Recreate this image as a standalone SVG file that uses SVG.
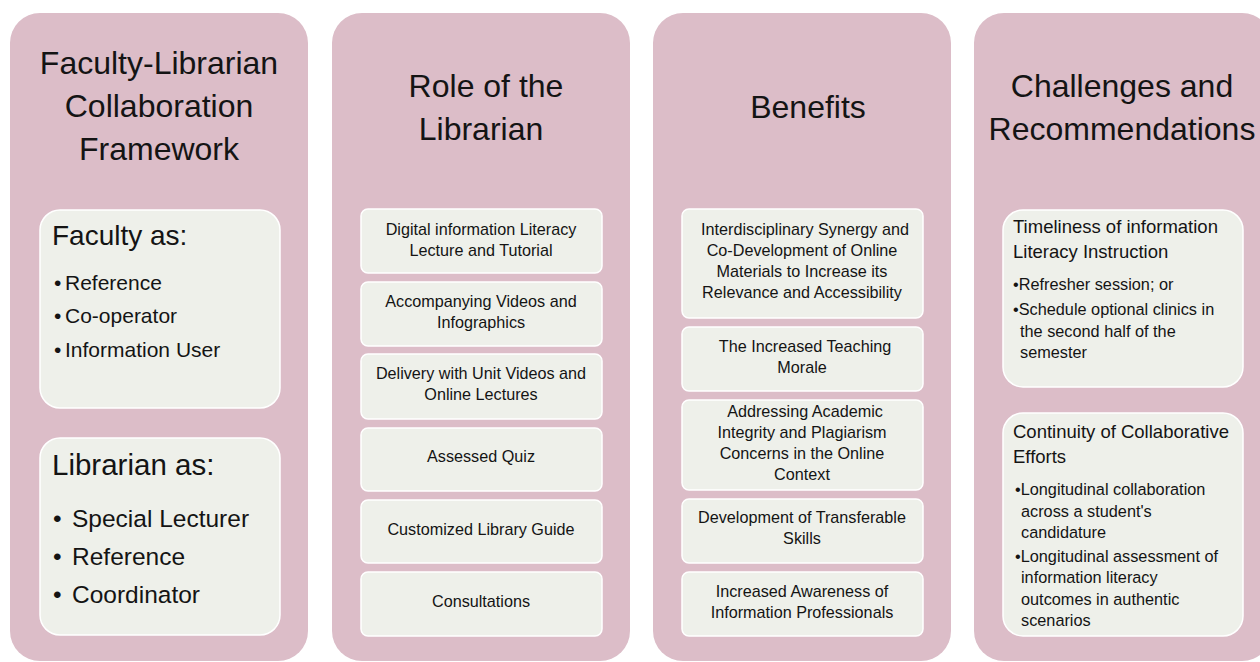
<svg xmlns="http://www.w3.org/2000/svg" width="1260" height="662" viewBox="0 0 1260 662">
<style>
.col{fill:#dcbdc8;}
.box{fill:#eef0ea;stroke:#ffffff;stroke-width:1.5;}
text{font-family:"Liberation Sans",Arial,sans-serif;fill:#141414;}
.title{font-size:32px;text-anchor:middle;}
.c{font-size:16.2px;text-anchor:middle;}
.h1{font-size:28px;}
.b1{font-size:21px;}
.h2{font-size:29.5px;}
.b2{font-size:24.5px;}
.h4{font-size:18.5px;}
.b4{font-size:16.3px;}
</style>
<rect width="1260" height="662" fill="#ffffff"/>

<g id="col-framework">
<rect class="col" x="10" y="13" width="298" height="648" rx="30"/>
<text class="title" x="159" y="74">Faculty-Librarian</text>
<text class="title" x="159" y="117">Collaboration</text>
<text class="title" x="159" y="160">Framework</text>
</g>
<g id="faculty-as">
<rect class="box" x="40" y="210" width="240" height="198" rx="20"/>
<text class="h1" x="52" y="245">Faculty as:</text>
<text class="b1" y="290"><tspan x="54">•</tspan><tspan x="65">Reference</tspan></text>
<text class="b1" y="323"><tspan x="54">•</tspan><tspan x="65">Co-operator</tspan></text>
<text class="b1" y="357"><tspan x="54">•</tspan><tspan x="65">Information User</tspan></text>
</g>
<g id="librarian-as">
<rect class="box" x="40" y="438" width="240" height="197" rx="20"/>
<text class="h2" x="52" y="475">Librarian as:</text>
<text class="b2" y="527"><tspan x="53">•</tspan><tspan x="72">Special Lecturer</tspan></text>
<text class="b2" y="565"><tspan x="53">•</tspan><tspan x="72">Reference</tspan></text>
<text class="b2" y="603"><tspan x="53">•</tspan><tspan x="72">Coordinator</tspan></text>
</g>

<g id="col-role">
<rect class="col" x="332" y="13" width="298" height="648" rx="30"/>
<text class="title" x="486" y="97">Role of the</text>
<text class="title" x="481" y="140">Librarian</text>
</g>
<g id="role-1">
<rect class="box" x="361" y="209" width="241" height="64" rx="7"/>
<text class="c" x="481" y="235">Digital information Literacy</text>
<text class="c" x="481" y="256">Lecture and Tutorial</text>
</g>
<g id="role-2">
<rect class="box" x="361" y="282" width="241" height="64" rx="7"/>
<text class="c" x="481" y="307">Accompanying Videos and</text>
<text class="c" x="481" y="328">Infographics</text>
</g>
<g id="role-3">
<rect class="box" x="361" y="354" width="241" height="65" rx="7"/>
<text class="c" x="481" y="379">Delivery with Unit Videos and</text>
<text class="c" x="481" y="400">Online Lectures</text>
</g>
<g id="role-4">
<rect class="box" x="361" y="428" width="241" height="63" rx="7"/>
<text class="c" x="481" y="462">Assessed Quiz</text>
</g>
<g id="role-5">
<rect class="box" x="361" y="500" width="241" height="63" rx="7"/>
<text class="c" x="481" y="535">Customized Library Guide</text>
</g>
<g id="role-6">
<rect class="box" x="361" y="572" width="241" height="64" rx="7"/>
<text class="c" x="481" y="607">Consultations</text>
</g>

<g id="col-benefits">
<rect class="col" x="653" y="13" width="298" height="648" rx="30"/>
<text class="title" x="808" y="118">Benefits</text>
</g>
<g id="benefit-1">
<rect class="box" x="682" y="209" width="241" height="109" rx="7"/>
<text class="c" x="805" y="235">Interdisciplinary Synergy and</text>
<text class="c" x="802" y="256">Co-Development of Online</text>
<text class="c" x="802" y="277">Materials to Increase its</text>
<text class="c" x="802" y="298">Relevance and Accessibility</text>
</g>
<g id="benefit-2">
<rect class="box" x="682" y="327" width="241" height="64" rx="7"/>
<text class="c" x="805" y="352">The Increased Teaching</text>
<text class="c" x="802" y="373">Morale</text>
</g>
<g id="benefit-3">
<rect class="box" x="682" y="400" width="241" height="90" rx="7"/>
<text class="c" x="805" y="417">Addressing Academic</text>
<text class="c" x="802" y="438">Integrity and Plagiarism</text>
<text class="c" x="802" y="459">Concerns in the Online</text>
<text class="c" x="802" y="480">Context</text>
</g>
<g id="benefit-4">
<rect class="box" x="682" y="499" width="241" height="64" rx="7"/>
<text class="c" x="802" y="523">Development of Transferable</text>
<text class="c" x="802" y="544">Skills</text>
</g>
<g id="benefit-5">
<rect class="box" x="682" y="572" width="241" height="64" rx="7"/>
<text class="c" x="802" y="597">Increased Awareness of</text>
<text class="c" x="802" y="618">Information Professionals</text>
</g>

<g id="col-challenges">
<rect class="col" x="974" y="13" width="298" height="648" rx="30"/>
<text class="title" x="1122" y="97">Challenges and</text>
<text class="title" x="1122" y="140">Recommendations</text>
</g>
<g id="timeliness">
<rect class="box" x="1003" y="210" width="240" height="177" rx="20"/>
<text class="h4" x="1013" y="233">Timeliness of information</text>
<text class="h4" x="1013" y="258">Literacy Instruction</text>
<text class="b4" x="1013" y="290">•Refresher session; or</text>
<text class="b4" x="1013" y="315">•Schedule optional clinics in</text>
<text class="b4" x="1020" y="337">the second half of the</text>
<text class="b4" x="1020" y="358">semester</text>
</g>
<g id="continuity">
<rect class="box" x="1003" y="413" width="240" height="223" rx="20"/>
<text class="h4" x="1013" y="438">Continuity of Collaborative</text>
<text class="h4" x="1013" y="463">Efforts</text>
<text class="b4" x="1015" y="495">•Longitudinal collaboration</text>
<text class="b4" x="1021" y="517">across a student's</text>
<text class="b4" x="1021" y="538">candidature</text>
<text class="b4" x="1015" y="562">•Longitudinal assessment of</text>
<text class="b4" x="1021" y="583">information literacy</text>
<text class="b4" x="1021" y="605">outcomes in authentic</text>
<text class="b4" x="1021" y="626">scenarios</text>
</g>
</svg>
